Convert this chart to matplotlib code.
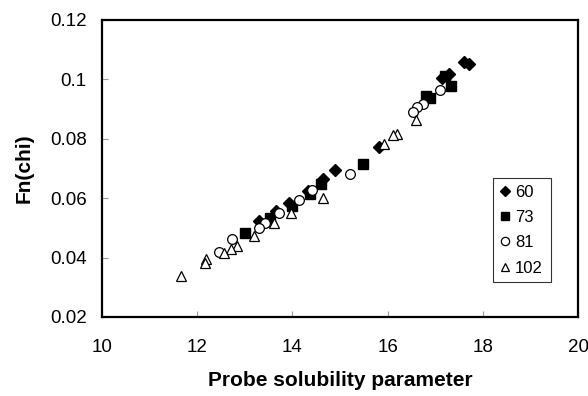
import matplotlib
matplotlib.use("Agg")
import matplotlib.pyplot as plt

plt.rcParams["font.family"] = ["Liberation Sans", "DejaVu Sans"]

# probe solubility parameter vs Fn(chi), one series per temperature
x60 = [17.61, 17.71, 17.15, 17.29, 15.82, 14.90, 14.64, 14.32, 13.92, 13.65, 13.29]
y60 = [0.1059, 0.1051, 0.1006, 0.1019, 0.0774, 0.0694, 0.0664, 0.0624, 0.0585, 0.0557, 0.0523]

x73 = [17.33, 17.21, 16.89, 16.81, 15.48, 14.61, 14.36, 14.00, 13.52, 13.00]
y73 = [0.0978, 0.1011, 0.0938, 0.0944, 0.0716, 0.0649, 0.0615, 0.0574, 0.0534, 0.0482]

x81 = [17.11, 16.74, 16.62, 16.54, 15.21, 14.42, 14.14, 13.72, 13.42, 13.29, 12.73, 12.46]
y81 = [0.0963, 0.0916, 0.0907, 0.0890, 0.0683, 0.0628, 0.0594, 0.0551, 0.0515, 0.0501, 0.0464, 0.0420]

x102 = [16.60, 16.20, 16.12, 15.92, 14.64, 13.96, 13.61, 13.19, 12.83, 12.72, 12.56, 12.18, 12.17, 11.66]
y102 = [0.0862, 0.0817, 0.0813, 0.0784, 0.0602, 0.0551, 0.0518, 0.0473, 0.0439, 0.0428, 0.0417, 0.0396, 0.0381, 0.0338]

xticks = [10, 12, 14, 16, 18, 20]
yticks = [0.02, 0.04, 0.06, 0.08, 0.1, 0.12]
ytick_labels = ["0.02", "0.04", "0.06", "0.08", "0.1", "0.12"]

fig = plt.figure(figsize=(5.88, 3.96), dpi=100)
ax = fig.add_axes([0.1735, 0.1995, 0.8095, 0.75])

ax.plot(x60, y60, "D", ms=6, mfc="black", mec="black", ls="none", label="60")
ax.plot(x73, y73, "s", ms=7, mfc="black", mec="black", ls="none", label="73")
ax.plot(x81, y81, "o", ms=7, mfc="white", mec="black", mew=0.9, ls="none", label="81")
ax.plot(x102, y102, "^", ms=7.5, mfc="white", mec="black", mew=0.9, ls="none", label="102")

ax.set_xlim(10, 20)
ax.set_ylim(0.02, 0.12)
ax.set_xticks(xticks)
ax.set_yticks(yticks)
ax.set_yticklabels(ytick_labels)
ax.tick_params(direction="in", length=4, color="#999999", labelsize=13.5)
ax.tick_params(axis="x", pad=16)
ax.tick_params(axis="y", pad=11)

for s in ax.spines.values():
    s.set_linewidth(1.6)

ax.set_xlabel("Probe solubility parameter", fontsize=15, fontweight="bold", labelpad=11)
ax.set_ylabel("Fn(chi)", fontsize=15, fontweight="bold", labelpad=12)

leg = ax.legend(loc="lower left", bbox_to_anchor=(0.822, 0.117, 0.121, 0.346),
                mode="expand", fontsize=12, frameon=True, fancybox=False,
                handlelength=0.6, handletextpad=0.3, borderpad=0.4,
                labelspacing=0.62, borderaxespad=0, markerscale=0.85)
leg.get_frame().set_edgecolor("black")
leg.get_frame().set_linewidth(0.8)

fig.savefig("out.png", dpi=100)
